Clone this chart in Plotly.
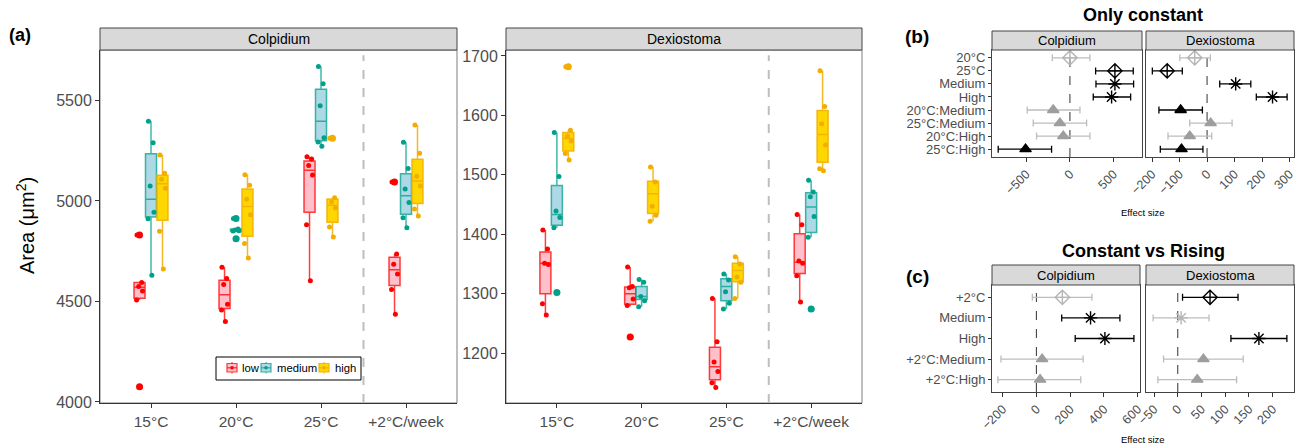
import plotly.graph_objects as go

W, H = 1301, 447
FONT = "Liberation Sans, Arial, sans-serif"
TICK = "#4D4D4D"

# ---------------- data: panel (a) ----------------
temps = ["15°C", "20°C", "25°C", "+2°C/week"]
groups = ["low", "medium", "high"]

# Colpidium: [group][temperature]
col_q1 = [[4516, 4465, 4944, 4579], [4920, 4850, 5300, 4934], [4904, 4824, 4894, 4988]]
col_med = [[4571, 4534, 5153, 4658], [5009, 4855, 5396, 5026], [5086, 4972, 4979, 5099]]
col_q3 = [[4594, 4605, 5199, 4720], [5235, 4860, 5556, 5136], [5128, 5060, 5010, 5207]]
col_lo = [[4507, 4400, 4603, 4436], [4630, 4848, 5272, 4867], [4662, 4716, 4821, 4925]]
col_hi = [[4594, 4670, 5220, 4736], [5397, 4862, 5669, 5292], [5229, 5131, 5016, 5378]]
col_out = [[[4831, 4076], [], [], [5094]], [[], [4913, 4812], [], []], [[], [], [5312], []]]
col_pts = [
    [[4831, 4594, 4574, 4552, 4507, 4076], [4670, 4614, 4585, 4486, 4458, 4400],
     [5220, 5209, 5176, 5129, 4882, 4603], [5094, 4736, 4685, 4637, 4559, 4436]],
    [[5397, 5289, 5074, 4944, 4912, 4630], [4913, 4860, 4856, 4852, 4850, 4812],
     [5669, 5583, 5474, 5315, 5293, 5272], [5292, 5161, 5060, 4993, 4917, 4867]],
    [[5229, 5138, 5108, 5063, 4849, 4662], [5131, 5078, 5008, 4932, 4788, 4716],
     [5312, 5016, 4995, 4965, 4871, 4821], [5378, 5237, 5123, 5075, 4960, 4925]],
]

# Dexiostoma: [group][temperature]
dex_q1 = [[1300, 1282, 1155, 1334], [1415, 1290, 1288, 1403], [1540, 1435, 1320, 1521]]
dex_med = [[1351, 1300, 1177, 1353], [1433, 1295, 1312, 1446], [1561, 1468, 1339, 1568]]
dex_q3 = [[1370, 1311, 1210, 1401], [1482, 1312, 1325, 1470], [1571, 1489, 1351, 1608]]
dex_lo = [[1264, 1279, 1142, 1286], [1411, 1278, 1274, 1395], [1525, 1422, 1292, 1507]]
dex_hi = [[1407, 1345, 1292, 1433], [1571, 1324, 1333, 1491], [1575, 1513, 1362, 1675]]
dex_out = [[[], [1227], [], []], [[1302], [], [], [1274]], [[1682], [], [], []]]
dex_pts = [
    [[1407, 1375, 1351, 1349, 1283, 1264], [1345, 1312, 1310, 1291, 1280, 1227],
     [1292, 1219, 1185, 1169, 1150, 1142], [1433, 1416, 1355, 1351, 1330, 1286]],
    [[1571, 1497, 1439, 1428, 1411, 1302], [1324, 1319, 1295, 1288, 1278],
     [1333, 1323, 1303, 1284, 1274], [1491, 1471, 1463, 1430, 1395, 1274]],
    [[1682, 1575, 1565, 1557, 1536, 1525], [1513, 1488, 1447, 1432, 1422],
     [1362, 1350, 1328, 1319, 1292], [1675, 1615, 1586, 1550, 1510, 1507]],
]

# ---------------- data: panel (b) ----------------
b_terms = ["20°C", "25°C", "Medium", "High", "20°C:Medium", "25°C:Medium", "20°C:High", "25°C:High"]
b_col_est = [0, 515, 515, 477, -191, -115, -76, -508]
b_col_lo = [-202, 294, 298, 267, -489, -420, -382, -821]
b_col_hi = [229, 725, 729, 695, 115, 191, 229, -210]
b_col_sig = [False, True, True, True, False, False, False, True]
b_dex_est = [-45, -145, 104, 238, -96, 13, -63, -93]
b_dex_lo = [-99, -199, 46, 179, -175, -63, -142, -170]
b_dex_hi = [12, -90, 159, 291, -17, 91, 17, -15]
b_dex_sig = [False, True, True, True, True, False, False, True]

# ---------------- data: panel (c) ----------------
c_terms = ["+2°C", "Medium", "High", "+2°C:Medium", "+2°C:High"]
c_col_est = [154, 321, 406, 34, 22]
c_col_lo = [-24, 150, 230, -210, -228]
c_col_hi = [329, 495, 578, 277, 263]
c_col_sig = [False, True, True, False, False]
c_dex_est = [68, 7, 171, 54, 41]
c_dex_lo = [10, -52, 112, -30, -42]
c_dex_hi = [127, 66, 230, 138, 124]
c_dex_sig = [True, False, True, False, False]

# ---------------- styling ----------------
point_col = ["#FF0000", "#00A08A", "#F2AD00"]
box_fill = ["#FFC0CB", "#ADD8E6", "#FFD700"]
box_line = ["rgba(255,0,0,0.75)", "rgba(0,160,138,0.75)", "rgba(242,173,0,0.85)"]
dodge = [-0.135, 0.0, 0.135]
jit = [-0.03, 0.025, -0.01, 0.035, -0.035, 0.01]


def px(x):
    return x / W


def py(y):
    return 1 - y / H


fig = go.Figure()


def add_boxes(q1, med, q3, lo, hi, out, pts, xa, ya):
    for g in range(3):
        xs = [i + 1 + dodge[g] for i in range(4)]
        fig.add_trace(go.Box(
            x=xs, q1=q1[g], median=med[g], q3=q3[g], lowerfence=lo[g], upperfence=hi[g],
            width=0.13, whiskerwidth=0, fillcolor=box_fill[g],
            line=dict(color=box_line[g], width=1.5), boxpoints=False,
            name=groups[g], showlegend=False,
            xaxis=xa, yaxis=ya, hoverinfo="skip"))
        ox, oy = [], []
        for i in range(4):
            for v in out[g][i]:
                ox.append(xs[i])
                oy.append(v)
        fig.add_trace(go.Scatter(x=ox, y=oy, mode="markers",
                                 marker=dict(color=point_col[g], size=7),
                                 showlegend=False, xaxis=xa, yaxis=ya, hoverinfo="skip"))
        jx, jy = [], []
        for i in range(4):
            for k, v in enumerate(pts[g][i]):
                jx.append(xs[i] + jit[k % len(jit)])
                jy.append(v)
        fig.add_trace(go.Scatter(x=jx, y=jy, mode="markers",
                                 marker=dict(color=point_col[g], size=5),
                                 showlegend=False, xaxis=xa, yaxis=ya, hoverinfo="skip"))


add_boxes(col_q1, col_med, col_q3, col_lo, col_hi, col_out, col_pts, "x", "y")
add_boxes(dex_q1, dex_med, dex_q3, dex_lo, dex_hi, dex_out, dex_pts, "x2", "y2")


def term_symbol(t):
    if ":" in t:
        return "triangle-up", 10
    if t in ("Medium", "High"):
        return "asterisk-open", 11
    return "diamond-cross-open", 11


def add_effects(terms, est, lo, hi, sig, xa, ya):
    for t, e, l, h, s in zip(terms, est, lo, hi, sig):
        sym, sz = term_symbol(t)
        if s:
            c = "#000000"
        else:
            c = "#9E9E9E" if ":" in t else "#B5B5B5"
        ec = "#000000" if s else "#BDBDBD"
        fig.add_trace(go.Scatter(
            x=[e], y=[t], mode="markers",
            marker=dict(symbol=sym, size=sz, color=c, line=dict(color=c, width=1.4)),
            error_x=dict(type="data", symmetric=False, array=[h - e], arrayminus=[e - l],
                         color=ec, thickness=1.3, width=3.5),
            showlegend=False, xaxis=xa, yaxis=ya, hoverinfo="skip"))


add_effects(b_terms, b_col_est, b_col_lo, b_col_hi, b_col_sig, "x3", "y3")
add_effects(b_terms, b_dex_est, b_dex_lo, b_dex_hi, b_dex_sig, "x4", "y4")
add_effects(c_terms, c_col_est, c_col_lo, c_col_hi, c_col_sig, "x5", "y5")
add_effects(c_terms, c_dex_est, c_dex_lo, c_dex_hi, c_dex_sig, "x6", "y6")

base_ax = dict(showgrid=False, zeroline=False, ticks="outside", ticklen=4, tickcolor="#333333",
               showline=True, linecolor="#333333", linewidth=1, automargin=False)

a_x = dict(base_ax, range=[0.4, 4.6], tickvals=[1, 2, 3, 4], ticktext=temps,
           tickfont=dict(size=15.5, color=TICK, family=FONT))
a_ydom = [py(403), py(50)]

b_ydom = [py(157), py(50)]
c_ydom = [py(392), py(285)]

eff_x = dict(base_ax, mirror=True, linecolor="#444444", tickangle=-45,
             tickfont=dict(size=12.5, color=TICK, family=FONT))
b_y = dict(base_ax, mirror=True, linecolor="#444444", type="category", categoryorder="array",
           categoryarray=b_terms, tickmode="array", tickvals=b_terms, ticktext=b_terms,
           range=[7.6, -0.6], tickfont=dict(size=13, color=TICK, family=FONT), ticklen=3)
c_y = dict(base_ax, mirror=True, linecolor="#444444", type="category", categoryorder="array",
           categoryarray=c_terms, tickmode="array", tickvals=c_terms, ticktext=c_terms,
           range=[4.6, -0.6], tickfont=dict(size=13, color=TICK, family=FONT), ticklen=3)

fig.update_layout(
    width=W, height=H, margin=dict(l=0, r=0, t=0, b=0, autoexpand=False),
    paper_bgcolor="white", plot_bgcolor="white",
    font=dict(family=FONT, color="black"),
    boxmode="overlay", showlegend=False,
    xaxis=dict(a_x, domain=[px(100), px(457)], anchor="y"),
    yaxis=dict(base_ax, domain=a_ydom, range=[3995, 5751], tickvals=[4000, 4500, 5000, 5500],
               tickfont=dict(size=16, color=TICK, family=FONT), anchor="x"),
    xaxis2=dict(a_x, domain=[px(506), px(862)], anchor="y2"),
    yaxis2=dict(base_ax, domain=a_ydom, range=[1116, 1710], tickvals=[1200, 1300, 1400, 1500, 1600, 1700],
                tickfont=dict(size=16, color=TICK, family=FONT), anchor="x2"),
    xaxis3=dict(eff_x, domain=[px(992), px(1142)], range=[-892, 825], tickvals=[-500, 0, 500], anchor="y3"),
    yaxis3=dict(b_y, domain=b_ydom, anchor="x3"),
    xaxis4=dict(eff_x, domain=[px(1146), px(1294)], range=[-222, 316],
                tickvals=[-200, -100, 0, 100, 200, 300], anchor="y4"),
    yaxis4=dict(b_y, domain=b_ydom, anchor="x4", showticklabels=False, ticks=""),
    xaxis5=dict(eff_x, domain=[px(992), px(1140)], range=[-263, 614],
                tickvals=[-200, 0, 200, 400, 600], anchor="y5"),
    yaxis5=dict(c_y, domain=c_ydom, anchor="x5"),
    xaxis6=dict(eff_x, domain=[px(1146), px(1294)], range=[-67, 245],
                tickvals=[-50, 0, 50, 100, 150, 200], anchor="y6"),
    yaxis6=dict(c_y, domain=c_ydom, anchor="x6", showticklabels=False, ticks=""),
)

shapes = []
annotations = []

# panel borders (a) and strips
strips = [
    (100, 457, 28, 50, 403, "Colpidium", 14),
    (506, 862, 28, 50, 403, "Dexiostoma", 14),
    (992, 1142, 31, 50, 157, "Colpidium", 13),
    (1146, 1294, 31, 50, 157, "Dexiostoma", 13),
    (992, 1140, 265, 285, 392, "Colpidium", 13),
    (1146, 1294, 265, 285, 392, "Dexiostoma", 13),
]
for i, (x0, x1, st, sb, pb, label, fs) in enumerate(strips):
    shapes.append(dict(type="rect", xref="paper", yref="paper", x0=px(x0), x1=px(x1),
                       y0=py(sb), y1=py(st), fillcolor="#D9D9D9",
                       line=dict(color="#444444", width=1), layer="above"))
    if i < 2:
        shapes.append(dict(type="rect", xref="paper", yref="paper", x0=px(x0), x1=px(x1),
                           y0=py(pb), y1=py(sb), line=dict(color="#7F7F7F", width=1), layer="below"))
    annotations.append(dict(text=label, xref="paper", yref="paper", x=px((x0 + x1) / 2),
                            y=py((st + sb) / 2), showarrow=False, xanchor="center", yanchor="middle",
                            font=dict(size=fs, color="black", family=FONT)))

# dashed separator in (a)
for xa, ya in (("x", "y"), ("x2", "y2")):
    shapes.append(dict(type="line", xref=xa, yref=ya + " domain", x0=3.5, x1=3.5, y0=0, y1=0.985,
                       line=dict(color="#BEBEBE", width=2, dash="dash"), layer="below"))
# zero lines in (b), (c)
for xa, ya in (("x3", "y3"), ("x4", "y4"), ("x5", "y5"), ("x6", "y6")):
    shapes.append(dict(type="line", xref=xa, yref=ya + " domain", x0=0, x1=0, y0=0, y1=1,
                       line=dict(color="#333333", width=1, dash="dash"), layer="below"))

# hand-drawn legend for panel (a)
shapes.append(dict(type="rect", xref="paper", yref="paper", x0=px(216), x1=px(361),
                   y0=py(380), y1=py(357), fillcolor="white", line=dict(color="black", width=1),
                   layer="above"))
legend_items = [(227, 240), (261, 275), (319, 333)]
for g, (ix, tx) in enumerate(legend_items):
    cx = ix + 5
    shapes.append(dict(type="line", xref="paper", yref="paper", x0=px(cx), x1=px(cx),
                       y0=py(373.5), y1=py(362), line=dict(color=box_line[g], width=1.2), layer="above"))
    shapes.append(dict(type="rect", xref="paper", yref="paper", x0=px(ix), x1=px(ix + 10),
                       y0=py(372), y1=py(363.5), fillcolor=box_fill[g],
                       line=dict(color=box_line[g], width=1.2), layer="above"))
    shapes.append(dict(type="line", xref="paper", yref="paper", x0=px(ix), x1=px(ix + 10),
                       y0=py(367.8), y1=py(367.8), line=dict(color=box_line[g], width=1.2), layer="above"))
    shapes.append(dict(type="circle", xref="paper", yref="paper", x0=px(cx - 1.8), x1=px(cx + 1.8),
                       y0=py(369.6), y1=py(366), fillcolor=point_col[g],
                       line=dict(color=point_col[g], width=0), layer="above"))
    annotations.append(dict(text=groups[g], xref="paper", yref="paper", x=px(tx), y=py(368),
                            showarrow=False, xanchor="left", yanchor="middle",
                            font=dict(size=11.3, color="black", family=FONT)))

annotations += [
    dict(text="Area (μm<sup>2</sup>)", xref="paper", yref="paper", x=px(25), y=py(226),
         textangle=-90, showarrow=False, xanchor="center", yanchor="middle",
         font=dict(size=20, color="black", family=FONT)),
    dict(text="<b>(a)</b>", xref="paper", yref="paper", x=px(20), y=py(35), showarrow=False,
         xanchor="center", yanchor="middle", font=dict(size=18, color="black", family=FONT)),
    dict(text="<b>(b)</b>", xref="paper", yref="paper", x=px(917), y=py(36), showarrow=False,
         xanchor="center", yanchor="middle", font=dict(size=19, color="black", family=FONT)),
    dict(text="<b>(c)</b>", xref="paper", yref="paper", x=px(917), y=py(276), showarrow=False,
         xanchor="center", yanchor="middle", font=dict(size=19, color="black", family=FONT)),
    dict(text="<b>Only constant</b>", xref="paper", yref="paper", x=px(1143), y=py(15), showarrow=False,
         xanchor="center", yanchor="middle", font=dict(size=18, color="black", family=FONT)),
    dict(text="<b>Constant vs Rising</b>", xref="paper", yref="paper", x=px(1143), y=py(251),
         showarrow=False, xanchor="center", yanchor="middle",
         font=dict(size=18, color="black", family=FONT)),
    dict(text="Effect size", xref="paper", yref="paper", x=px(1143), y=py(212), showarrow=False,
         xanchor="center", yanchor="middle", font=dict(size=9.5, color="black", family=FONT)),
    dict(text="Effect size", xref="paper", yref="paper", x=px(1143), y=py(439), showarrow=False,
         xanchor="center", yanchor="middle", font=dict(size=9.5, color="black", family=FONT)),
]

fig.update_layout(shapes=shapes, annotations=annotations)
fig.write_html("out.html", config={"displayModeBar": False},
               post_script="document.body.style.margin='0';document.body.style.overflow='hidden';")
